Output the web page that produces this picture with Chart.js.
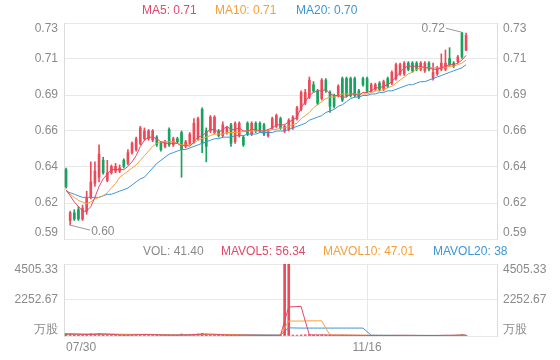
<!DOCTYPE html>
<html>
<head>
<meta charset="utf-8">
<script src="https://cdn.jsdelivr.net/npm/chart.js@4.4.0/dist/chart.umd.min.js"></script>
<style>
    html, body { margin: 0; padding: 0; background: #fff; }
    body { width: 560px; height: 360px; position: relative; overflow: hidden; font-family: "Liberation Sans", Arial, sans-serif; }
    .wrap { position: absolute; left: 0; width: 560px; }
    #priceWrap { top: 0; height: 245px; }
    #volWrap { top: 240px; height: 120px; }
    .legend span { position: absolute; font-size: 12px; line-height: 14px; white-space: nowrap; }
</style>
</head>
<body>
<div class="wrap" id="priceWrap"><canvas id="priceChart"></canvas></div>
<div class="wrap" id="volWrap"><canvas id="volChart"></canvas></div>
<div class="legend">
    <span style="left:142px;top:3px;color:#e4476b">MA5: 0.71</span>
    <span style="left:215px;top:3px;color:#f5a03a">MA10: 0.71</span>
    <span style="left:296px;top:3px;color:#3d95d6">MA20: 0.70</span>
    <span style="left:143px;top:244px;color:#8a8a8a">VOL: 41.40</span>
    <span style="left:221px;top:244px;color:#e4476b">MAVOL5: 56.34</span>
    <span style="left:323px;top:244px;color:#f5a03a">MAVOL10: 47.01</span>
    <span style="left:433px;top:244px;color:#3d95d6">MAVOL20: 38</span>
</div>
<script>
// trading days shown on the chart
const dates = [
    '07/30', '07/31',
    '08/01', '08/02', '08/03', '08/06', '08/07', '08/08', '08/09', '08/10', '08/13', '08/14',
    '08/15', '08/16', '08/17', '08/20', '08/21', '08/22', '08/23', '08/24', '08/27', '08/28',
    '08/29', '08/30', '08/31',
    '09/03', '09/04', '09/05', '09/06', '09/07', '09/10', '09/11', '09/12', '09/13', '09/14',
    '09/17', '09/18', '09/19', '09/20', '09/21', '09/25', '09/26', '09/27', '09/28',
    '10/08', '10/09', '10/10', '10/11', '10/12', '10/15', '10/16', '10/17', '10/18', '10/19',
    '10/22', '10/23', '10/24', '10/25', '10/26', '10/29', '10/30', '10/31',
    '11/01', '11/02', '11/05', '11/06', '11/07', '11/08', '11/09', '11/12', '11/13', '11/14',
    '11/15', '11/16', '11/19', '11/20', '11/21', '11/22', '11/23', '11/26', '11/27', '11/28',
    '11/29', '11/30',
    '12/03', '12/04', '12/05', '12/06', '12/07', '12/10', '12/11', '12/12', '12/13', '12/14',
    '12/17', '12/18', '12/19', '12/20'
];
const shownDates = ['07/30', '11/16'];
const emptySlots = 7;

const openP = [
    0.635, 0.602, 0.607, 0.609, 0.603, 0.608, 0.617, 0.626, 0.630, 0.641,
    0.628, 0.633, 0.634, 0.634, 0.641, 0.639, 0.646, 0.648, 0.652, 0.655,
    0.655, 0.654, 0.656, 0.652, 0.650, 0.661, 0.651, 0.655, 0.659, 0.650,
    0.652, 0.653, 0.655, 0.674, 0.660, 0.660, 0.659, 0.660, 0.657, 0.659,
    0.664, 0.653, 0.657, 0.656, 0.665, 0.658, 0.665, 0.665, 0.664, 0.657,
    0.662, 0.663, 0.668, 0.660, 0.661, 0.662, 0.668, 0.674, 0.678, 0.682,
    0.690, 0.686, 0.681, 0.693, 0.685, 0.683, 0.683, 0.694, 0.694, 0.694,
    0.694, 0.686, 0.694, 0.694, 0.686, 0.687, 0.691, 0.687, 0.694, 0.691,
    0.694, 0.697, 0.697, 0.704, 0.704, 0.704, 0.700, 0.699, 0.704, 0.694,
    0.697, 0.700, 0.700, 0.707, 0.704, 0.705, 0.7235, 0.7125
];
const closeP = [
    0.624, 0.607, 0.603, 0.603, 0.610, 0.617, 0.627, 0.634, 0.645, 0.633,
    0.633, 0.637, 0.637, 0.636, 0.637, 0.646, 0.652, 0.655, 0.662, 0.660,
    0.660, 0.660, 0.651, 0.648, 0.653, 0.651, 0.655, 0.653, 0.648, 0.653,
    0.658, 0.665, 0.668, 0.652, 0.650, 0.669, 0.669, 0.657, 0.664, 0.662,
    0.652, 0.665, 0.665, 0.651, 0.658, 0.665, 0.660, 0.660, 0.658, 0.660,
    0.668, 0.670, 0.662, 0.663, 0.667, 0.669, 0.675, 0.685, 0.685, 0.693,
    0.686, 0.678, 0.693, 0.686, 0.676, 0.676, 0.689, 0.680, 0.683, 0.683,
    0.683, 0.682, 0.690, 0.686, 0.690, 0.690, 0.687, 0.692, 0.689, 0.698,
    0.703, 0.703, 0.704, 0.700, 0.699, 0.700, 0.704, 0.704, 0.700, 0.698,
    0.701, 0.704, 0.704, 0.703, 0.702, 0.708, 0.708, 0.722
];
const highP = [
    0.636, 0.608, 0.609, 0.611, 0.612, 0.621, 0.640, 0.640, 0.651, 0.643,
    0.641, 0.638, 0.639, 0.638, 0.642, 0.648, 0.653, 0.656, 0.663, 0.662,
    0.661, 0.661, 0.657, 0.653, 0.654, 0.662, 0.656, 0.656, 0.660, 0.654,
    0.659, 0.668, 0.669, 0.675, 0.662, 0.670, 0.670, 0.661, 0.666, 0.663,
    0.665, 0.666, 0.666, 0.657, 0.666, 0.666, 0.666, 0.666, 0.665, 0.661,
    0.669, 0.671, 0.669, 0.664, 0.668, 0.670, 0.676, 0.686, 0.687, 0.695,
    0.692, 0.687, 0.694, 0.694, 0.686, 0.684, 0.690, 0.695, 0.695, 0.695,
    0.695, 0.687, 0.695, 0.695, 0.691, 0.691, 0.692, 0.693, 0.695, 0.699,
    0.704, 0.704, 0.705, 0.705, 0.705, 0.705, 0.705, 0.705, 0.705, 0.704,
    0.702, 0.710, 0.7125, 0.714, 0.705, 0.709, 0.724, 0.7235
];
const lowP = [
    0.623, 0.599, 0.602, 0.602, 0.602, 0.606, 0.616, 0.624, 0.627, 0.632,
    0.627, 0.632, 0.633, 0.633, 0.636, 0.638, 0.645, 0.647, 0.651, 0.654,
    0.654, 0.653, 0.650, 0.647, 0.649, 0.650, 0.650, 0.652, 0.630, 0.649,
    0.651, 0.652, 0.654, 0.646, 0.640, 0.659, 0.658, 0.656, 0.656, 0.658,
    0.650, 0.652, 0.656, 0.650, 0.657, 0.657, 0.659, 0.659, 0.657, 0.656,
    0.661, 0.662, 0.661, 0.659, 0.660, 0.661, 0.667, 0.673, 0.677, 0.681,
    0.685, 0.677, 0.680, 0.685, 0.672, 0.675, 0.682, 0.679, 0.682, 0.682,
    0.682, 0.681, 0.689, 0.685, 0.685, 0.686, 0.686, 0.686, 0.688, 0.690,
    0.693, 0.696, 0.696, 0.699, 0.698, 0.699, 0.699, 0.698, 0.699, 0.693,
    0.696, 0.699, 0.699, 0.702, 0.701, 0.704, 0.707, 0.712
];

const ma5 = [
    0.622, 0.618, 0.614, 0.611, 0.608, 0.608, 0.611, 0.617, 0.624, 0.629,
    0.632, 0.635, 0.635, 0.635, 0.635, 0.637, 0.640, 0.644, 0.650, 0.654,
    0.656, 0.656, 0.655, 0.653, 0.652, 0.652, 0.652, 0.652, 0.650, 0.651,
    0.650, 0.653, 0.656, 0.657, 0.659, 0.661, 0.661, 0.659, 0.661, 0.663,
    0.661, 0.661, 0.662, 0.660, 0.660, 0.661, 0.661, 0.660, 0.660, 0.661,
    0.662, 0.664, 0.664, 0.664, 0.666, 0.667, 0.669, 0.675, 0.679, 0.683,
    0.685, 0.686, 0.686, 0.687, 0.684, 0.683, 0.683, 0.682, 0.682, 0.684,
    0.684, 0.683, 0.685, 0.685, 0.686, 0.688, 0.688, 0.689, 0.690, 0.692,
    0.695, 0.698, 0.701, 0.702, 0.702, 0.702, 0.702, 0.701, 0.701, 0.700,
    0.700, 0.701, 0.702, 0.703, 0.703, 0.704, 0.706, 0.709
];
const ma10 = [
    0.621, 0.619, 0.617, 0.615, 0.614, 0.613, 0.614, 0.616, 0.617, 0.618,
    0.620, 0.623, 0.626, 0.630, 0.632, 0.634, 0.636, 0.638, 0.641, 0.644,
    0.647, 0.650, 0.652, 0.653, 0.653, 0.653, 0.653, 0.652, 0.651, 0.651,
    0.651, 0.652, 0.654, 0.655, 0.656, 0.657, 0.658, 0.658, 0.658, 0.659,
    0.659, 0.659, 0.659, 0.660, 0.660, 0.660, 0.660, 0.660, 0.660, 0.660,
    0.661, 0.661, 0.662, 0.662, 0.663, 0.664, 0.665, 0.668, 0.670, 0.672,
    0.675, 0.677, 0.679, 0.681, 0.682, 0.682, 0.683, 0.684, 0.684, 0.684,
    0.684, 0.684, 0.684, 0.684, 0.685, 0.686, 0.686, 0.687, 0.688, 0.689,
    0.691, 0.693, 0.695, 0.697, 0.698, 0.700, 0.701, 0.701, 0.701, 0.701,
    0.701, 0.701, 0.701, 0.702, 0.702, 0.703, 0.704, 0.706
];
const ma20 = [
    0.621, 0.620, 0.619, 0.618, 0.617, 0.617, 0.617, 0.617, 0.617, 0.618,
    0.619, 0.619, 0.620, 0.621, 0.622, 0.623, 0.625, 0.627, 0.629, 0.630,
    0.633, 0.636, 0.639, 0.641, 0.643, 0.645, 0.646, 0.647, 0.648, 0.648,
    0.649, 0.650, 0.651, 0.652, 0.653, 0.654, 0.655, 0.655, 0.656, 0.656,
    0.656, 0.657, 0.657, 0.657, 0.658, 0.658, 0.658, 0.659, 0.659, 0.659,
    0.659, 0.660, 0.660, 0.660, 0.661, 0.662, 0.663, 0.664, 0.665, 0.667,
    0.668, 0.669, 0.670, 0.672, 0.673, 0.674, 0.676, 0.677, 0.679, 0.681,
    0.682, 0.682, 0.683, 0.683, 0.684, 0.684, 0.685, 0.685, 0.686, 0.686,
    0.687, 0.688, 0.689, 0.690, 0.690, 0.691, 0.692, 0.692, 0.693, 0.694,
    0.695, 0.696, 0.697, 0.698, 0.699, 0.700, 0.701, 0.703
];

// volume in 万股
const volume = [
    150, 130, 90, 70, 80, 110, 140, 120, 160, 90,
    70, 60, 50, 45, 55, 80, 90, 110, 100, 85,
    70, 60, 55, 50, 45, 60, 50, 45, 120, 60,
    70, 110, 130, 160, 120, 80, 70, 50, 55, 50,
    60, 55, 50, 45, 40, 45, 40, 35, 40, 35,
    45, 50, 40, 4550, 4520, 60, 55, 70, 80, 90,
    60, 50, 70, 55, 50, 45, 40, 55, 50, 45,
    40, 35, 40, 35, 30, 30, 35, 30, 35, 40,
    45, 40, 45, 35, 30, 30, 35, 30, 30, 40,
    35, 45, 50, 40.3, 50, 60, 90, 41.4
];
const mavol5 = [
    120, 125, 120, 115, 105, 95, 100, 105, 125, 125,
    115, 100, 85, 65, 55, 60, 65, 75, 85, 95,
    90, 85, 75, 65, 55, 55, 52, 50, 65, 65,
    70, 80, 100, 125, 120, 120, 110, 95, 75, 60,
    58, 55, 54, 52, 50, 49, 45, 42, 40, 39,
    40, 41, 42, 950, 1830, 1830, 1840, 1850, 935, 70,
    70, 70, 70, 65, 57, 55, 52, 50, 49, 48,
    46, 44, 42, 40, 36, 34, 34, 32, 32, 34,
    37, 38, 41, 40, 39, 36, 35, 33, 31, 33,
    34, 36, 40, 42, 44, 49, 59, 56.34
];
const mavol10 = [
    115, 118, 117, 115, 112, 110, 110, 112, 115, 115,
    110, 105, 100, 95, 90, 78, 82, 85, 90, 92,
    88, 80, 72, 68, 70, 70, 66, 60, 60, 58,
    58, 65, 75, 90, 92, 95, 95, 97, 98, 92,
    90, 82, 73, 62, 55, 53, 50, 48, 46, 45,
    44, 43, 42, 495, 940, 935, 935, 935, 940, 950,
    950, 950, 950, 490, 60, 62, 62, 60, 57, 55,
    52, 49, 46, 45, 43, 40, 38, 37, 36, 35,
    35, 35, 36, 36, 36, 35, 35, 34, 33, 33,
    33, 34, 35, 36, 38, 42, 47, 47.01
];
const mavol20 = [
    110, 112, 113, 112, 110, 108, 108, 110, 112, 113,
    112, 112, 111, 108, 105, 102, 100, 99, 100, 101,
    100, 96, 91, 86, 82, 76, 74, 72, 75, 74,
    73, 75, 78, 80, 82, 84, 82, 80, 78, 76,
    74, 73, 72, 72, 74, 75, 73, 70, 68, 66,
    64, 62, 60, 285, 510, 505, 500, 495, 495, 495,
    495, 495, 495, 495, 495, 495, 495, 495, 495, 495,
    495, 495, 495, 270, 48, 47, 46, 45, 44, 43,
    42, 41, 40, 39, 38, 37, 37, 36, 36, 36,
    36, 36, 36, 37, 37, 37, 38, 38
];

// axis ticks
const priceTicks = [0.59, 0.61333, 0.63667, 0.66, 0.68333, 0.70667, 0.73];
const priceTickLabels = ['0.59', '0.62', '0.64', '0.66', '0.69', '0.71', '0.73'];
const volTicks = [0, 2252.67, 4505.33];
const volTickLabels = ['万股', '2252.67', '4505.33'];

const upColor = '#ec4a58';
const downColor = '#17a25d';
const ma5Color = '#e4476b';
const ma10Color = '#f5a03a';
const ma20Color = '#3d95d6';
const gridColor = '#e8e8e8';
const borderColor = '#dcdcdc';
const textColor = '#8a8a8a';
const fontFamily = '"Liberation Sans", Arial, sans-serif';

const slotLabels = dates.concat(new Array(emptySlots).fill(''));
const candleColors = closeP.map((c, i) => c >= openP[i] ? upColor : downColor);

Chart.defaults.font.family = fontFamily;
Chart.defaults.font.size = 12;
Chart.defaults.color = textColor;

// tick labels on both sides, first and last pulled inside the plot
const sideLabels = {
    id: 'sideLabels',
    afterDraw(chart, args, opts) {
        const { ctx, chartArea } = chart;
        const scale = chart.scales.y;
        ctx.save();
        ctx.font = '12px ' + fontFamily;
        ctx.fillStyle = textColor;
        ctx.textBaseline = 'middle';
        opts.values.forEach((v, i) => {
            let py = scale.getPixelForValue(v);
            if (i === 0) py -= 6;
            if (i === opts.values.length - 1) py += 6;
            ctx.textAlign = 'right';
            ctx.fillText(opts.labels[i], chartArea.left - 6, py);
            ctx.textAlign = 'left';
            ctx.fillText(opts.labels[i], chartArea.right + 6, py);
        });
        ctx.restore();
    }
};

// highest / lowest price marks
const extremeMarks = {
    id: 'extremeMarks',
    afterDatasetsDraw(chart) {
        const { ctx } = chart;
        const xs = chart.scales.x;
        const ys = chart.scales.y;
        let hi = 0, lo = 0;
        highP.forEach((v, i) => { if (v > highP[hi]) hi = i; });
        lowP.forEach((v, i) => { if (v < lowP[lo]) lo = i; });

        ctx.save();
        ctx.strokeStyle = '#999';
        ctx.lineWidth = 1;
        ctx.fillStyle = textColor;
        ctx.font = '12px ' + fontFamily;
        ctx.textBaseline = 'middle';

        const hx = xs.getPixelForValue(hi), hy = ys.getPixelForValue(highP[hi]);
        ctx.beginPath();
        ctx.moveTo(hx, hy);
        ctx.lineTo(hx - 16, hy - 4);
        ctx.stroke();
        ctx.textAlign = 'right';
        ctx.fillText(highP[hi].toFixed(2), hx - 17, hy - 4);

        const lx = xs.getPixelForValue(lo), ly = ys.getPixelForValue(lowP[lo]);
        ctx.beginPath();
        ctx.moveTo(lx, ly);
        ctx.lineTo(lx + 20, ly + 5);
        ctx.stroke();
        ctx.textAlign = 'left';
        ctx.fillText(lowP[lo].toFixed(2), lx + 21, ly + 7);
        ctx.restore();
    }
};

function lineSet(label, data, color) {
    return {
        type: 'line',
        label: label,
        data: data,
        borderColor: color,
        borderWidth: 1,
        pointRadius: 0,
        fill: false,
        tension: 0,
        order: 0
    };
}

function xGridColor(c) {
    return slotLabels[c.index] === '11/16' ? gridColor : 'rgba(0,0,0,0)';
}

new Chart(document.getElementById('priceChart'), {
    type: 'bar',
    data: {
        labels: slotLabels,
        datasets: [
            lineSet('MA5', ma5, ma5Color),
            lineSet('MA10', ma10, ma10Color),
            lineSet('MA20', ma20, ma20Color),
            {
                label: 'range',
                data: lowP.map((l, i) => [l, highP[i]]),
                backgroundColor: candleColors,
                barThickness: 1,
                grouped: false,
                order: 2
            },
            {
                label: 'body',
                data: openP.map((o, i) => [o, closeP[i]]),
                backgroundColor: candleColors,
                barThickness: 2,
                minBarLength: 1,
                grouped: false,
                order: 1
            }
        ]
    },
    options: {
        responsive: true,
        maintainAspectRatio: false,
        animation: false,
        layout: { padding: { top: 23, bottom: 6, left: 0, right: 0 } },
        plugins: {
            legend: { display: false },
            tooltip: { enabled: false },
            sideLabels: { values: priceTicks, labels: priceTickLabels }
        },
        scales: {
            x: {
                offset: true,
                grid: { offset: false, drawTicks: false, color: xGridColor },
                border: { display: false },
                ticks: { display: false, autoSkip: false },
                afterFit: s => { s.height = 0; }
            },
            y: {
                position: 'left',
                min: 0.59,
                max: 0.73,
                afterBuildTicks: s => { s.ticks = priceTicks.map(v => ({ value: v })); },
                grid: { color: gridColor, drawTicks: false },
                border: { display: true, color: borderColor },
                ticks: { display: false },
                afterFit: s => { s.width = 64; }
            },
            yR: {
                position: 'right',
                min: 0.59,
                max: 0.73,
                grid: { display: false, drawTicks: false },
                border: { display: true, color: borderColor },
                ticks: { display: false },
                afterFit: s => { s.width = 63; }
            }
        }
    },
    plugins: [sideLabels, extremeMarks]
});

new Chart(document.getElementById('volChart'), {
    type: 'bar',
    data: {
        labels: slotLabels,
        datasets: [
            lineSet('MAVOL5', mavol5, ma5Color),
            lineSet('MAVOL10', mavol10, ma10Color),
            lineSet('MAVOL20', mavol20, ma20Color),
            {
                label: 'VOL',
                data: volume,
                backgroundColor: candleColors,
                barThickness: 2,
                order: 1
            }
        ]
    },
    options: {
        responsive: true,
        maintainAspectRatio: false,
        animation: false,
        layout: { padding: { top: 24, bottom: 0, left: 0, right: 0 } },
        plugins: {
            legend: { display: false },
            tooltip: { enabled: false },
            sideLabels: { values: volTicks, labels: volTickLabels }
        },
        scales: {
            x: {
                offset: true,
                grid: { offset: false, drawTicks: false, color: xGridColor },
                border: { display: false },
                ticks: {
                    autoSkip: false,
                    maxRotation: 0,
                    align: 'inner',
                    padding: 4,
                    color: textColor,
                    callback: (v, i) => shownDates.includes(slotLabels[i]) ? slotLabels[i] : ''
                },
                afterFit: s => { s.height = 24; }
            },
            y: {
                position: 'left',
                min: 0,
                max: 4505.33,
                afterBuildTicks: s => { s.ticks = volTicks.map(v => ({ value: v })); },
                grid: { color: gridColor, drawTicks: false },
                border: { display: true, color: borderColor },
                ticks: { display: false },
                afterFit: s => { s.width = 64; }
            },
            yR: {
                position: 'right',
                min: 0,
                max: 4505.33,
                grid: { display: false, drawTicks: false },
                border: { display: true, color: borderColor },
                ticks: { display: false },
                afterFit: s => { s.width = 63; }
            }
        }
    },
    plugins: [sideLabels]
});
</script>
</body>
</html>
